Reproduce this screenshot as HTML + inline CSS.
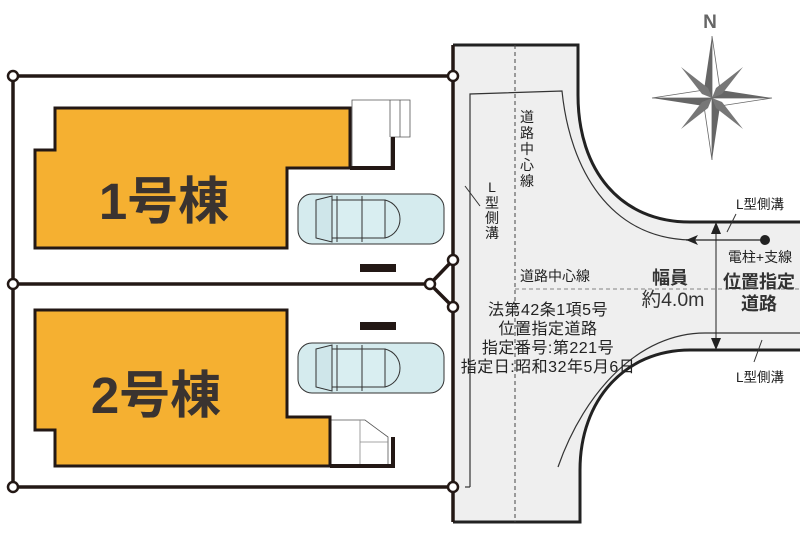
<!DOCTYPE html>
<html><head><meta charset="utf-8"><style>
html,body{margin:0;padding:0;background:#fff;}
svg{display:block;}
text{font-family:"Liberation Sans","Noto Sans CJK JP",sans-serif;fill:#222;}
</style></head><body>
<svg width="800" height="543" viewBox="0 0 800 543" xmlns="http://www.w3.org/2000/svg">
<path d="M453,45 L578,45 L578,95 C578,170 620,222 690,222 L800,222 L800,350 L690,350 C625,350 580,400 580,470 L580,522 L453,522 Z" fill="#efefef"/>
<path d="M453,45 L578,45 L578,95 C578,170 620,222 690,222 L800,222" fill="none" stroke="#222" stroke-width="3"/>
<path d="M800,350 L690,350 C625,350 580,400 580,470 L580,522 L453,522" fill="none" stroke="#222" stroke-width="3"/>
<path d="M470,487 L470,94 L562,91 C570,170 610,238 690,240" fill="none" stroke="#333" stroke-width="1.2"/>
<line x1="686" y1="240" x2="765" y2="240" stroke="#222" stroke-width="1.2"/>
<path d="M686,240 L698,235 L695,240 L698,245 Z" fill="#222"/>
<circle cx="765" cy="240" r="5" fill="#222"/>
<path d="M800,333 L705,333 C640,333 585,390 558,467" fill="none" stroke="#333" stroke-width="1.2"/>
<line x1="465" y1="487" x2="470" y2="487" stroke="#333" stroke-width="1.2"/>
<line x1="515" y1="45" x2="515" y2="522" stroke="#444" stroke-width="1" stroke-dasharray="4,3"/>
<line x1="515" y1="289" x2="800" y2="289" stroke="#999" stroke-width="1.2" stroke-dasharray="4,3"/>
<line x1="716" y1="226" x2="716" y2="346" stroke="#222" stroke-width="1"/>
<path d="M716,222 L711,234 L721,234 Z M716,350 L711,338 L721,338 Z" fill="#222"/>
<line x1="736" y1="214" x2="727" y2="232" stroke="#333" stroke-width="1"/>
<line x1="762" y1="340" x2="754" y2="362" stroke="#333" stroke-width="1"/>
<line x1="465" y1="186" x2="480" y2="206" stroke="#333" stroke-width="1"/>
<g stroke="#231815" stroke-width="3.5" fill="none">
<path d="M13,76 L453,76"/>
<path d="M13,76 L13,487 L453,487"/>
<path d="M13,284 L430,284"/>
<path d="M453,45 L453,522"/>
<path d="M430,284 L453,260 M430,284 L453,307"/>
</g>
<g fill="#fff" stroke="#231815" stroke-width="2.5">
<circle cx="13" cy="76" r="5"/><circle cx="453" cy="76" r="5"/>
<circle cx="13" cy="284" r="5"/><circle cx="430" cy="284" r="5"/>
<circle cx="453" cy="260" r="5"/><circle cx="453" cy="307" r="5"/>
<circle cx="13" cy="487" r="5"/><circle cx="453" cy="487" r="5"/>
</g>
<path d="M352,100 L410,100 L410,137 L391,137 L391,167 L352,167 Z" fill="#fff" stroke="#555" stroke-width="0.8"/>
<line x1="390" y1="100" x2="390" y2="137" stroke="#555" stroke-width="0.8"/>
<line x1="400" y1="100" x2="400" y2="137" stroke="#555" stroke-width="0.8"/>
<path d="M55,108 L350,108 L350,168 L287,168 L287,248 L35,248 L35,150 L55,150 Z" fill="#F5B031" stroke="#231815" stroke-width="3"/>
<path d="M350,168 L393,168 L393,137" fill="none" stroke="#231815" stroke-width="4"/>
<text x="164" y="219" font-size="51" font-weight="bold" text-anchor="middle" style="fill:#3a3330">1号棟</text>
<path d="M330,420 L365,420 L388,437 L388,466 L330,466 Z" fill="#fff" stroke="#555" stroke-width="0.8"/>
<line x1="360" y1="420" x2="360" y2="466" stroke="#888" stroke-width="0.8"/>
<line x1="360" y1="442" x2="388" y2="442" stroke="#888" stroke-width="0.8"/>
<path d="M35,310 L287,310 L287,417 L330,417 L330,466 L55,466 L55,430 L35,430 Z" fill="#F5B031" stroke="#231815" stroke-width="3"/>
<path d="M330,466 L393,466 L393,437" fill="none" stroke="#231815" stroke-width="4"/>
<text x="156" y="413" font-size="51" font-weight="bold" text-anchor="middle" style="fill:#3a3330">2号棟</text>
<rect x="360" y="264" width="36" height="8" fill="#231815"/>
<rect x="360" y="322" width="36" height="8" fill="#231815"/>
<g stroke="#333" stroke-width="1" fill="#d5ebee">
<rect x="298" y="194" width="146" height="50" rx="14"/>
<path d="M316,200 L332,196 L332,242 L316,238 Z" fill="#cfe6ea"/>
<path d="M332,200 L385,200 L385,238 L332,238 Z" fill="#d9eef1"/>
<path d="M385,200 C405,205 405,233 385,238" fill="none"/>
<line x1="337" y1="196" x2="337" y2="242"/><line x1="362" y1="196" x2="362" y2="242"/>
</g>
<g stroke="#333" stroke-width="1" fill="#d5ebee">
<rect x="298" y="343" width="146" height="50" rx="14"/>
<path d="M316,349 L332,345 L332,391 L316,387 Z" fill="#cfe6ea"/>
<path d="M332,349 L385,349 L385,387 L332,387 Z" fill="#d9eef1"/>
<path d="M385,349 C405,354 405,382 385,387" fill="none"/>
<line x1="337" y1="345" x2="337" y2="391"/><line x1="362" y1="345" x2="362" y2="391"/>
</g>
<g transform="translate(712,98)">
<path d="M0,-62 L8,-8 L0,0 Z" fill="#fff" stroke="#666" stroke-width="0.8"/>
<path d="M0,-62 L-8,-8 L0,0 Z" fill="#666"/>
<path d="M0,62 L-8,8 L0,0 Z" fill="#fff" stroke="#666" stroke-width="0.8"/>
<path d="M0,62 L8,8 L0,0 Z" fill="#666"/>
<path d="M60,0 L8,-8 L0,0 Z" fill="#666"/>
<path d="M60,0 L8,8 L0,0 Z" fill="#fff" stroke="#666" stroke-width="0.8"/>
<path d="M-60,0 L-8,8 L0,0 Z" fill="#666"/>
<path d="M-60,0 L-8,-8 L0,0 Z" fill="#fff" stroke="#666" stroke-width="0.8"/>
<path d="M-31,-31 L-4,-10 L0,0 L-10,-4 Z" fill="#777"/>
<path d="M31,-31 L10,-4 L0,0 L4,-10 Z" fill="#777"/>
<path d="M31,31 L4,10 L0,0 L10,4 Z" fill="#777"/>
<path d="M-31,31 L-10,4 L0,0 L-4,10 Z" fill="#777"/>
</g>
<text x="710" y="28" font-size="19" font-weight="bold" text-anchor="middle" style="fill:#666">N</text>
<g font-size="14" text-anchor="middle">
<text x="527" y="122">道</text><text x="527" y="138">路</text><text x="527" y="154">中</text><text x="527" y="170">心</text><text x="527" y="186">線</text>
<text x="492" y="192">L</text><text x="492" y="208">型</text><text x="492" y="223">側</text><text x="492" y="238">溝</text>
</g>
<text x="520" y="281" font-size="14">道路中心線</text>
<g font-size="16" text-anchor="middle" style="fill:#333" letter-spacing="0.5">
<text x="548" y="315">法第42条1項5号</text>
<text x="548" y="334">位置指定道路</text>
<text x="548" y="353">指定番号:第221号</text>
<text x="548" y="372">指定日:昭和32年5月6日</text>
</g>
<text x="670" y="284" font-size="18" text-anchor="middle" font-weight="bold" style="fill:#333">幅員</text>
<text x="673" y="306" font-size="19.5" text-anchor="middle" style="fill:#333">約4.0m</text>
<text x="760" y="209" font-size="13.5" text-anchor="middle">L型側溝</text>
<text x="760" y="262" font-size="14" text-anchor="middle">電柱+支線</text>
<text x="759" y="288" font-size="18" text-anchor="middle" font-weight="bold" style="fill:#333">位置指定</text>
<text x="759" y="310" font-size="18" text-anchor="middle" font-weight="bold" style="fill:#333">道路</text>
<text x="760" y="382" font-size="13.5" text-anchor="middle">L型側溝</text>
</svg>
</body></html>
